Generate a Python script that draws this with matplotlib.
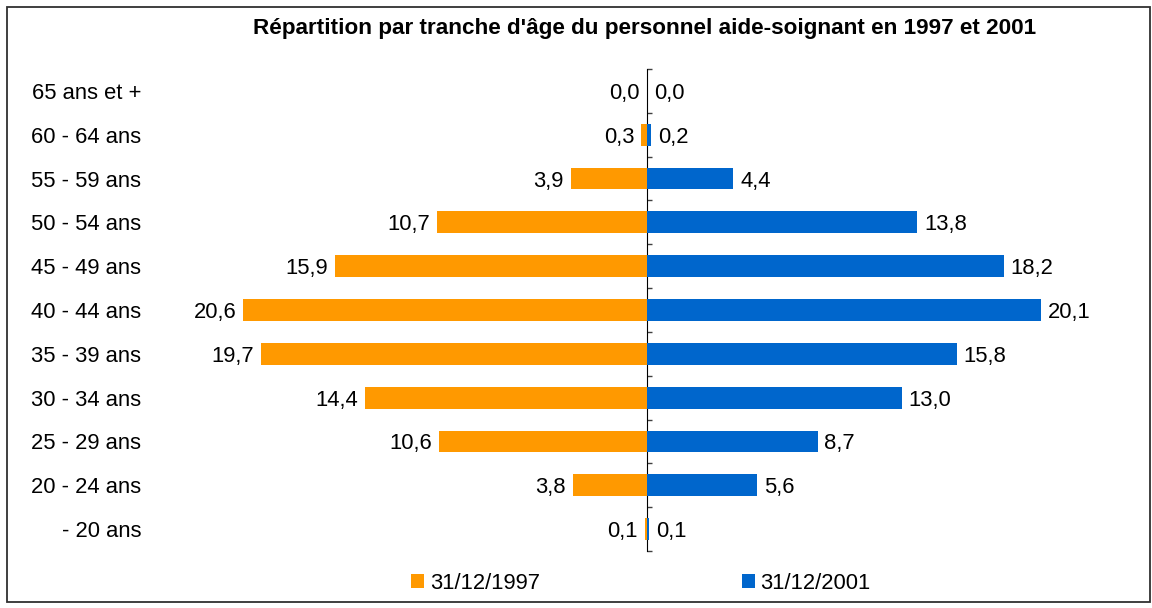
import matplotlib
matplotlib.use("Agg")
import matplotlib.pyplot as plt
from matplotlib.patches import Rectangle, Patch
import numpy as np

plt.rcParams['font.family'] = ['Liberation Sans', 'DejaVu Sans']

categories = ["65 ans et +", "60 - 64 ans", "55 - 59 ans", "50 - 54 ans", "45 - 49 ans",
              "40 - 44 ans", "35 - 39 ans", "30 - 34 ans", "25 - 29 ans", "20 - 24 ans", "- 20 ans"]
values_1997 = [0.0, 0.3, 3.9, 10.7, 15.9, 20.6, 19.7, 14.4, 10.6, 3.8, 0.1]
values_2001 = [0.0, 0.2, 4.4, 13.8, 18.2, 20.1, 15.8, 13.0, 8.7, 5.6, 0.1]
series_labels = ["31/12/1997", "31/12/2001"]
title = "Répartition par tranche d'âge du personnel aide-soignant en 1997 et 2001"

c1997 = "#FF9900"
c2001 = "#0066CC"

W, H = 1152, 608
fig = plt.figure(figsize=(W / 100, H / 100), dpi=100)

# axes placement in pixels
L, R, T, B = 200, 1094, 69, 551
ax = fig.add_axes([L / W, 1 - B / H, (R - L) / W, (B - T) / H])
half = (R - L) / 2 / 19.6
ax.set_xlim(-half, half)
n = len(categories)
ax.set_ylim(n - 0.5, -0.5)

y = np.arange(n)
ax.barh(y, [-v for v in values_1997], height=0.5, color=c1997, linewidth=0)
ax.barh(y, values_2001, height=0.5, color=c2001, linewidth=0)

fs = 15.8
for yi, v in zip(y, values_1997):
    ax.annotate(f"{v:.1f}".replace(".", ","), xy=(-v, yi), xytext=(-5, 0),
                textcoords="offset points", ha="right", va="center_baseline", fontsize=fs)
for yi, v in zip(y, values_2001):
    ax.annotate(f"{v:.1f}".replace(".", ","), xy=(v, yi), xytext=(5, 0),
                textcoords="offset points", ha="left", va="center_baseline", fontsize=fs)

for s in ax.spines.values():
    s.set_visible(False)
ax.set_xticks([])
ax.set_yticks(y)
ax.set_yticklabels(categories, fontsize=fs)
ax.tick_params(axis="y", length=0, pad=(L - 141) * 72 / 100)

sec = ax.secondary_yaxis(0.5)
sec.set_yticks(np.arange(n + 1) - 0.5)
sec.set_yticklabels([])
sec.tick_params(axis="y", direction="out", length=3.8, width=1, color="#404040")
sec.spines["left"].set_color("#404040")
sec.spines["left"].set_linewidth(1)

fig.text(645 / W, 1 - 28.5 / H, title, ha="center", va="center", fontsize=16.2, fontweight="bold")

handles = [Patch(facecolor=c1997, edgecolor="none"), Patch(facecolor=c2001, edgecolor="none")]
fig.legend(handles, series_labels, loc="center", bbox_to_anchor=(641 / W, 1 - 583.5 / H),
           ncol=2, frameon=False, fontsize=fs, handlelength=0.6, handleheight=0.6,
           handletextpad=0.25, columnspacing=9.2)

fig.patches.append(Rectangle((7 / W, (H - 602) / H), 1143 / W, 595 / H, transform=fig.transFigure,
                             fill=False, edgecolor="#303030", linewidth=1.3))

fig.savefig("out.png", dpi=100, facecolor="white")
